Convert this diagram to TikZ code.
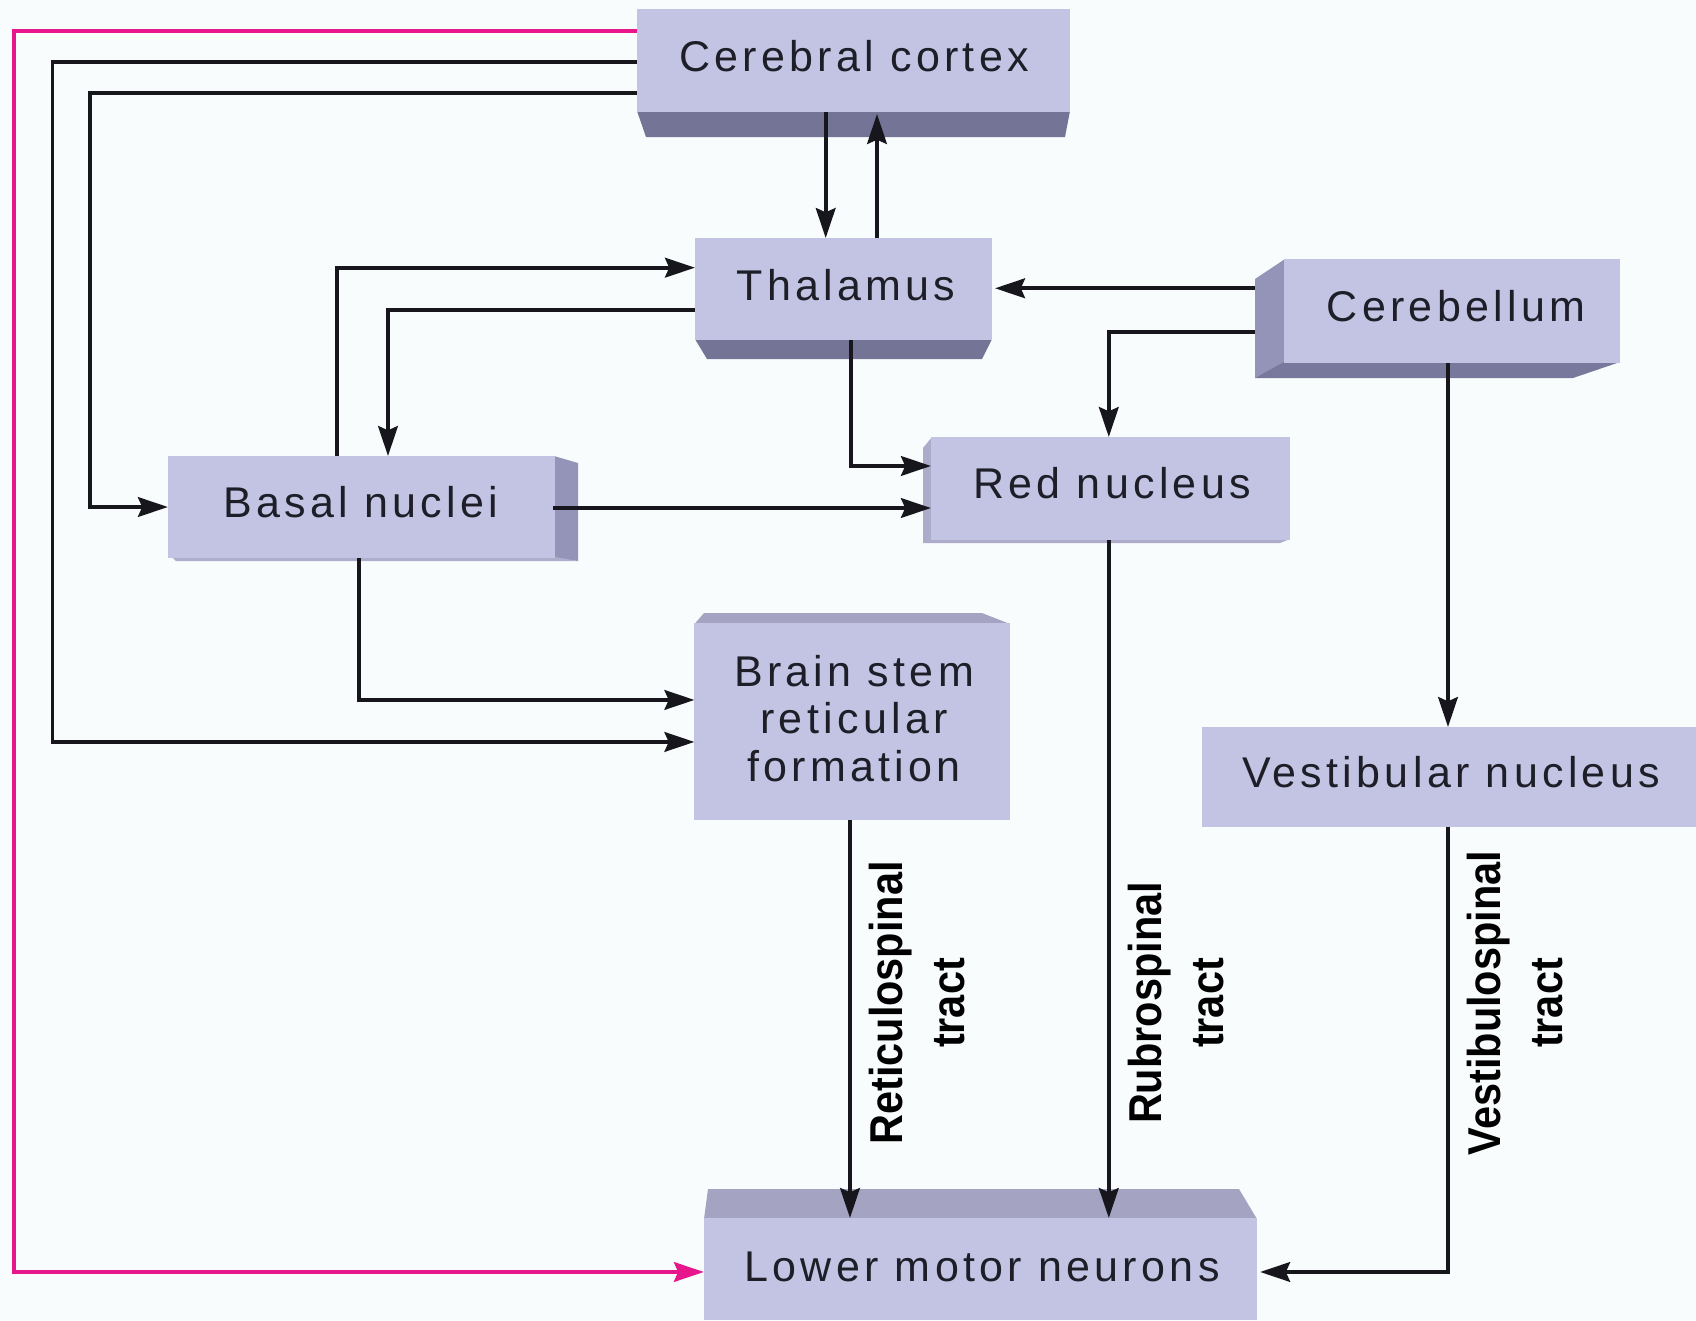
\documentclass[tikz,border=0pt]{standalone}
\usepackage{fontspec}
\setmainfont{Liberation Sans}
\newfontfamily\bxfont[LetterSpace=10]{Liberation Sans}
\newfontfamily\lbfont[FakeStretch=0.9]{Liberation Sans}
\usetikzlibrary{arrows.meta,calc}
\definecolor{bgc}{RGB}{249,252,253}
\definecolor{facec}{RGB}{195,196,228}
\definecolor{darkbev}{RGB}{116,116,150}
\definecolor{sidebev}{RGB}{148,148,184}
\definecolor{botbev}{RGB}{120,120,156}
\definecolor{lightbev}{RGB}{164,164,194}
\definecolor{redbev}{RGB}{172,172,202}
\definecolor{pinkc}{RGB}{232,22,140}
\definecolor{linec}{RGB}{22,22,28}
\definecolor{txtc}{RGB}{30,30,40}
\begin{document}
\begin{tikzpicture}[x=0.01cm,y=-0.01cm,
  face/.style={rectangle,fill=facec,draw=none,inner sep=0pt,outer sep=0pt},
  boxtext/.style={font=\fontsize{12.23}{13.5}\bxfont,text=txtc,inner sep=0pt},
  lab/.style={font=\fontsize{13.1}{17.4}\lbfont\bfseries,text=black,align=center,rotate=90,inner sep=0pt},
  conn/.style={draw=linec,line width=1.05pt},
  arr/.style={conn,-{Stealth[length=8.5pt,width=5.6pt,inset=1.2pt]}},
  pk/.style={draw=pinkc,line width=1.05pt,-{Stealth[length=8.5pt,width=5.6pt,inset=1.2pt]}}]
\fill[bgc] (0,0) rectangle (1696,1320);
\useasboundingbox (0,0) rectangle (1696,1320);

% ---- bevels ----
\fill[darkbev] (637,111) -- (1070,111) -- (1065,137) -- (646,137) -- cycle;
\fill[darkbev] (695,339) -- (992,339) -- (982,359) -- (707,359) -- cycle;
\fill[sidebev] (1255,279) -- (1285,259) -- (1285,363) -- (1255,378) -- cycle;
\fill[botbev] (1255,378) -- (1284,362) -- (1620,362) -- (1573,378) -- cycle;
\fill[sidebev] (554,456) -- (578,463) -- (578,561) -- (554,558) -- cycle;
\fill[lightbev!70!facec] (172,557) -- (555,557) -- (578,561) -- (176,561) -- cycle;
\fill[redbev] (923,448) -- (932,437) -- (932,540) -- (923,543) -- cycle;
\fill[redbev] (923,543) -- (931,539) -- (1290,539) -- (1280,543) -- cycle;
\fill[lightbev] (704,613) -- (982,613) -- (1010,624) -- (694.5,624) -- cycle;
\fill[lightbev] (708,1189) -- (1239,1189) -- (1257,1219) -- (704,1219) -- cycle;

% ---- faces ----
\node[face,minimum width=4.33cm,minimum height=1.03cm] (ctx) at (853.5,60.5) {};
\node[face,minimum width=2.97cm,minimum height=1.02cm] (thal) at (843.5,289) {};
\node[face,minimum width=3.36cm,minimum height=1.04cm] (cbl) at (1452,311) {};
\node[face,minimum width=3.87cm,minimum height=1.02cm] (bas) at (361.5,507) {};
\node[face,minimum width=3.59cm,minimum height=1.03cm] (red) at (1110.5,488.5) {};
\node[face,minimum width=3.155cm,minimum height=1.97cm] (bs) at (852.25,721.5) {};
\node[face,minimum width=4.94cm,minimum height=1.00cm] (vest) at (1449,777) {};
\node[face,minimum width=5.53cm,minimum height=1.02cm] (lmn) at (980.5,1269) {};

% ---- helper x positions ----
\coordinate (c1) at (825.7,0);
\coordinate (c2) at (877,0);
\coordinate (pinkx) at (14,600);
\coordinate (w1) at (52.6,400);
\coordinate (w2) at (89.8,300);
\coordinate (w3) at (336.7,0);
\coordinate (w4) at (388,0);
\coordinate (w5) at (1108.8,0);
\coordinate (w6) at (1448,0);
\coordinate (w7) at (851,0);
\coordinate (w9) at (359.3,0);
\coordinate (w10) at (850,0);

% ---- connectors ----
\draw[pk] ($(ctx.north west)+(0,21.7)$) -| (pinkx) |- ($(lmn.north west)+(0,54)$);
\draw[arr] ($(ctx.north west)+(0,52.7)$) -| (w1) |- ($(bs.north west)+(0,119)$);
\draw[arr] ($(ctx.north west)+(0,83.7)$) -| (w2) |- (bas.west);
\draw[arr] (ctx.south -| c1) -- (thal.north -| c1);
\draw[arr] (thal.north -| c2) -- ($(ctx.south -| c2)+(0,2)$);
\draw[arr] (bas.north -| w3) |- ($(thal.north west)+(0,29.7)$);
\draw[arr] ($(thal.north west)+(0,72)$) -| (bas.north -| w4);
\draw[arr] ($(cbl.north west)+(-29,29.3)$) coordinate (cb1) -- ($(cb1 -| thal.east)+(3,0)$);
\draw[arr] ($(cbl.north west)+(-29,72.7)$) -| (red.north -| w5);
\draw[arr] (cbl.south -| w6) -- (vest.north -| w6);
\draw[arr] (thal.south -| w7) |- ($(red.north west)+(0,29)$);
\draw[arr] ($(bas.east)+(-2,1)$) coordinate (bb1) -- (bb1 -| red.west);
\draw[arr] (bas.south -| w9) |- ($(bs.north west)+(0,77)$);
\draw[arr] (bs.south -| w10) -- (lmn.north -| w10);
\draw[arr] (red.south -| w5) -- (lmn.north -| w5);
\draw[arr] (vest.south -| w6) |- ($(lmn.north east)+(3,54)$);

% ---- texts ----
\node[boxtext,anchor=base] (tctx) at (854,71.7) {Cerebral cortex};
\node[boxtext,anchor=base] (tthal) at (846,300.7) {Thalamus};
\node[boxtext,anchor=base] (tcbl) at (1456,321.7) {Cerebellum};
\node[boxtext,anchor=base] (tbas) at (361,517.5) {Basal nuclei};
\node[boxtext,anchor=base] (tred) at (1112,498.3) {Red nucleus};
\node[boxtext,anchor=north,align=center] (tbs) at (854,654.2) {Brain stem\\reticular\\formation};
\node[boxtext,anchor=base] (tvest) at (1451,787.5) {Vestibular nucleus};
\node[boxtext,anchor=base] (tlmn) at (982,1281) {Lower motor neurons};

\node[lab] (rlab) at (917,1003) {Reticulospinal\\tract};
\node[lab] (rblab) at (1176,1003) {Rubrospinal\\tract};
\node[lab] (vlab) at (1515,1003) {Vestibulospinal\\tract};
\end{tikzpicture}
\end{document}
